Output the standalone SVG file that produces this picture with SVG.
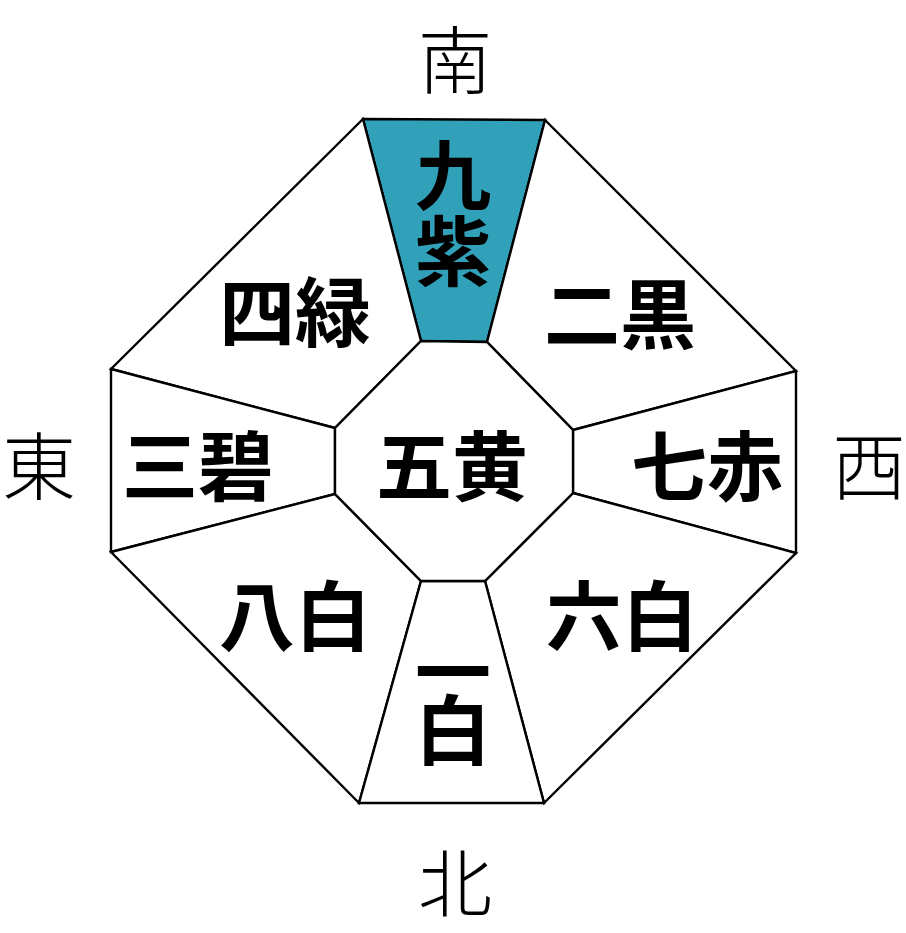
<svg xmlns="http://www.w3.org/2000/svg" width="906" height="933" viewBox="0 0 906 933">
<style>
.seg{fill:#ffffff;stroke:#000;stroke-width:2.4;stroke-linejoin:miter}
.hl{fill:#31A1BA}
.lbl{font-family:"Noto Sans CJK JP","Noto Sans CJK SC",sans-serif;font-size:76px;font-weight:700;fill:#000;text-anchor:middle;dominant-baseline:central}
.vert{writing-mode:vertical-rl;glyph-orientation-vertical:0}
.dir{font-family:"Noto Sans CJK JP","Noto Sans CJK SC",sans-serif;font-size:74px;font-weight:300;fill:#000;text-anchor:middle;dominant-baseline:central}
</style>
<rect width="906" height="933" fill="#fff"/>
<g id="kyushi">
<polygon class="seg hl" points="363,119 545,120 487,342 421,341"/>
<text class="lbl vert" x="453" y="213">九紫</text>
</g>
<g id="shiroku">
<polygon class="seg" points="363,119 421,341 335,428 111,369"/>
<text class="lbl" x="295" y="308">四緑</text>
</g>
<g id="jikoku">
<polygon class="seg" points="545,120 796,371 573,430 487,342"/>
<text class="lbl" x="620" y="310">二黒</text>
</g>
<g id="sanpeki">
<polygon class="seg" points="111,369 335,428 335,494 111,552"/>
<text class="lbl" x="198" y="462">三碧</text>
</g>
<g id="shichiseki">
<polygon class="seg" points="796,371 796,553 573,493 573,430"/>
<text class="lbl" x="707" y="462">七赤</text>
</g>
<g id="happaku">
<polygon class="seg" points="111,552 335,494 421,581 359,803"/>
<text class="lbl" x="295" y="612">八白</text>
</g>
<g id="roppaku">
<polygon class="seg" points="573,493 796,553 544,803 485,581"/>
<text class="lbl" x="622" y="612">六白</text>
</g>
<g id="ippaku">
<polygon class="seg" points="421,581 485,581 544,803 359,803"/>
<text class="lbl vert" x="453" y="692" letter-spacing="-18">一白</text>
</g>
<g id="goou">
<polygon class="seg" points="421,341 487,342 573,430 573,493 485,581 421,581 335,494 335,428"/>
<text class="lbl" x="452" y="462">五黄</text>
</g>
<g id="directions">
<text class="dir" x="455" y="55">南</text>
<text class="dir" x="39" y="461">東</text>
<text class="dir" x="869" y="461">西</text>
<text class="dir" x="455" y="878">北</text>
</g>
<g id="connectors"></g>
</svg>
